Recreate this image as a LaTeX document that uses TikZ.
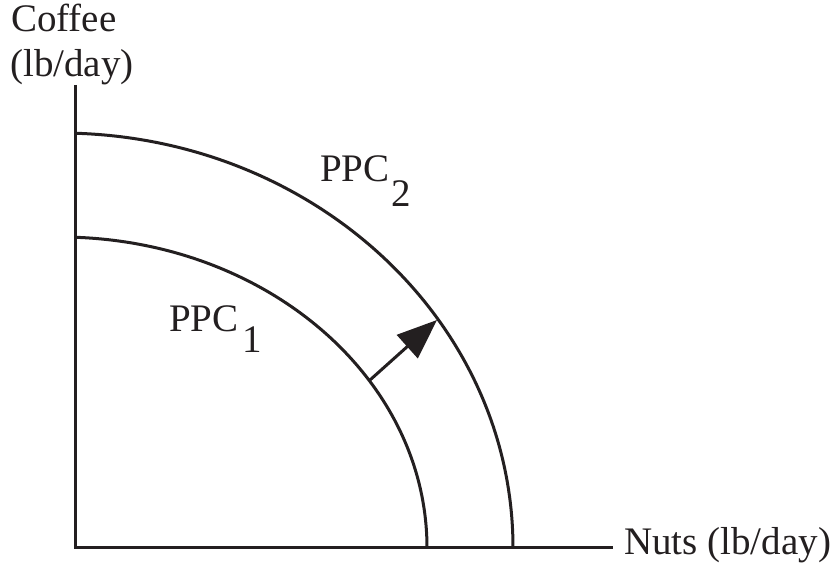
\documentclass[tikz,border=0pt]{standalone}
\usepackage{fontspec}
\setmainfont{Liberation Serif}
\usetikzlibrary{calc,arrows.meta,positioning}
\definecolor{ink}{HTML}{231F20}
\tikzset{
  ax/.style={line width=3pt,ink},
  ppc/.style={line width=3pt,ink},
  shiftar/.style={-{Triangle[length=40pt,width=31pt]},line width=3pt,ink},
  lbl/.style={font=\fontsize{39}{45}\selectfont,text=ink,inner sep=0pt}
}
\begin{document}
\begin{tikzpicture}[x=1pt,y=1pt]
\useasboundingbox (0,0) rectangle (833,573);
\coordinate (O) at (75,25);
\coordinate (C) at (60,25); % centre of both curves
\coordinate (ytop) at (75,488);
\coordinate (xend) at (613,25);
\draw[ax] (ytop) -- (O) -- (xend);
% the two frontiers
\draw[ppc] ($(C)+(87.66:367 and 311)$) arc[start angle=87.66,end angle=0,x radius=367,y radius=311];
\draw[ppc] ($(C)+(88.10:453 and 415)$) arc[start angle=88.10,end angle=0,x radius=453,y radius=415];
\coordinate (a1) at (370,193); \coordinate (a2) at (437,253);
\draw[shiftar] (a1) -- (a2);
\node[lbl,anchor=base west] (n1) at (169,241) {PPC\kern4pt\lower21pt\hbox{1}};
\node[lbl,anchor=base west] (n2) at (320,391) {PPC\kern2pt\lower25pt\hbox{2}};
\node[lbl,anchor=base west] (xl) at (624,18) {Nuts (lb/day)};
\node[lbl,anchor=base west] (yl1) at (11,541) {Coffee};
\node[lbl,anchor=base west] (yl2) at (10,496) {(lb/day)};
\end{tikzpicture}
\end{document}
